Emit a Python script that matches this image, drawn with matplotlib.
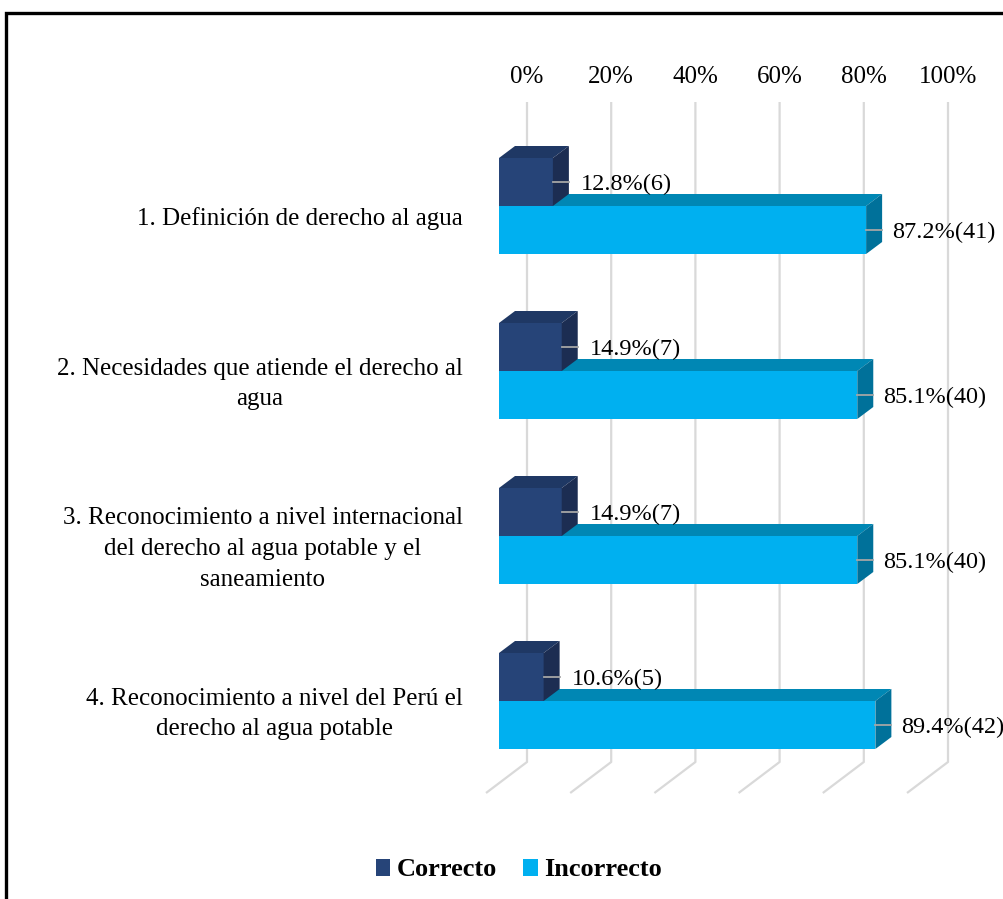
import matplotlib
matplotlib.use("Agg")
import matplotlib.pyplot as plt
from matplotlib.patches import Polygon, Rectangle, Patch

# ---------------- data ----------------
categories = [
    "1. Definición de derecho al agua",
    "2. Necesidades que atiende el derecho al\nagua",
    "3. Reconocimiento a nivel internacional\ndel derecho al agua potable y el\nsaneamiento",
    "4. Reconocimiento a nivel del Perú el\nderecho al agua potable",
]
correcto_pct = [12.8, 14.9, 14.9, 10.6]
correcto_n = [6, 7, 7, 5]
incorrecto_pct = [87.2, 85.1, 85.1, 89.4]
incorrecto_n = [41, 40, 40, 42]
tick_values = [0, 20, 40, 60, 80, 100]
tick_labels = ["0%", "20%", "40%", "60%", "80%", "100%"]
series_names = ["Correcto", "Incorrecto"]

# ---------------- style ----------------
W, H = 1004, 899
FONT = "Liberation Serif"
corr_front, corr_top, corr_side = "#264478", "#1F3864", "#1C2D52"
inc_front, inc_top, inc_side = "#00B0F0", "#0087B4", "#00719A"
grid_col = "#D9D9D9"
lead_col = "#A6A6A6"

fig = plt.figure(figsize=(W / 100, H / 100), dpi=100)

# axes for the front plane: x 0..100 % -> px 499..920
ax_left_px, ax_right_px = 499, 920
ax_top_px, ax_bot_px = 100, 800
ax = fig.add_axes([ax_left_px / W, 1 - ax_bot_px / H,
                   (ax_right_px - ax_left_px) / W, (ax_bot_px - ax_top_px) / H])
px_per_x = (ax_right_px - ax_left_px) / 100.0
px_per_y = 165.0           # one category step
y0_px = 206.0              # px of category 0 center (front plane)
ax.set_xlim(0, 100)
ax.set_ylim((ax_bot_px - y0_px) / px_per_y, (ax_top_px - y0_px) / px_per_y)
ax.axis("off")


def dx(p):
    return p / px_per_x


def dy(p):
    return p / px_per_y


bar_h = dy(48)
# bar depth offset (px right, px up)
bdx, bdy = dx(16), dy(12)
# back wall offset
wdx, wdy = dx(28), dy(21)
# floor front offset
fdx, fdy = dx(-13), dy(-10)

# ---------------- gridlines (back wall + floor) ----------------
g_top = dy(123 - y0_px)
g_bot = dy(783 - y0_px)
for t, lab in zip(tick_values, tick_labels):
    ax.plot([t + wdx, t + wdx, t + fdx], [g_top - wdy, g_bot - wdy, g_bot - fdy],
            color=grid_col, lw=1.6, zorder=1, solid_capstyle="butt", clip_on=False)
    ax.text(t + wdx, dy(77 - y0_px), lab, ha="center", va="center",
            fontsize=18, family=FONT, color="#000000")


def bar3d(v, top, front, topc, side, z):
    bot = top + bar_h
    ax.barh(top + bar_h / 2, v, height=bar_h, left=0, color=front,
            edgecolor="none", zorder=z)
    ax.add_patch(Polygon([(0, top), (v, top), (v + bdx, top - bdy), (bdx, top - bdy)],
                         closed=True, facecolor=topc, edgecolor="none", zorder=z,
                         clip_on=False))
    ax.add_patch(Polygon([(v, top), (v + bdx, top - bdy), (v + bdx, bot - bdy), (v, bot)],
                         closed=True, facecolor=side, edgecolor="none", zorder=z,
                         clip_on=False))


for i, cat in enumerate(categories):
    zbase = 10 + i * 4
    # Incorrecto (lower, drawn first)
    bar3d(incorrecto_pct[i], i, inc_front, inc_top, inc_side, zbase)
    # Correcto (upper)
    bar3d(correcto_pct[i], i - bar_h, corr_front, corr_top, corr_side, zbase + 1)

    # data labels
    yc = i - bar_h / 2
    v = correcto_pct[i]
    ax.plot([v, v + dx(16)], [yc, yc], color=lead_col, lw=1.3, zorder=40, clip_on=False)
    ax.text(v + dx(28), yc + dy(2), f"{v:.1f}%({correcto_n[i]})", ha="left",
            va="center", fontsize=17.5, family=FONT, zorder=41)
    yc = i + bar_h / 2
    v = incorrecto_pct[i]
    ax.plot([v, v + dx(16)], [yc, yc], color=lead_col, lw=1.3, zorder=40, clip_on=False)
    ax.text(v + dx(26), yc + dy(2), f"{v:.1f}%({incorrecto_n[i]})", ha="left",
            va="center", fontsize=17.5, family=FONT, zorder=41)

    # category label
    ax.text(dx(463 - ax_left_px), i + dy(13), cat, ha="right", va="center",
            multialignment="center", fontsize=18, family=FONT,
            linespacing=1.5)

# ---------------- legend ----------------
handles = [Patch(facecolor=corr_front, edgecolor="none"),
           Patch(facecolor=inc_front, edgecolor="none")]
fig.legend(handles, series_names, loc="center", bbox_to_anchor=(519 / W, 1 - 870 / H),
           ncol=2, frameon=False, prop={"family": FONT, "weight": "bold", "size": 19},
           handlelength=0.55, handleheight=0.6, handletextpad=0.25, columnspacing=1.0)

# ---------------- outer frame ----------------
fig.patches.append(Rectangle((5.5 / W, -0.1), 2.0, 1.1 - 12.5 / H + 0.0,
                             transform=fig.transFigure, fill=False,
                             edgecolor="black", lw=2.4, zorder=100))

fig.savefig("out.png", dpi=100)
